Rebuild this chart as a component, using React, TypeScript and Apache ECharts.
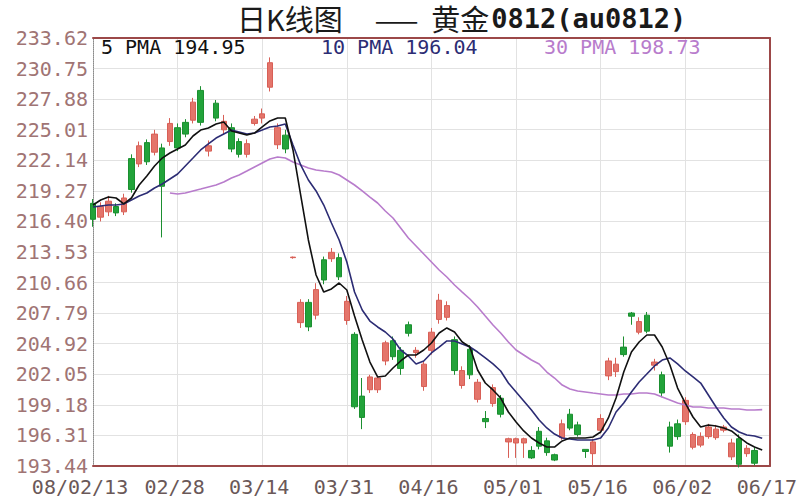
import React, { useEffect, useRef } from "react";
import * as echarts from "echarts";

const dates = [
  "08/02/13", "02/14", "02/15", "02/18", "02/19", "02/20", "02/21", "02/22", "02/25", "02/26", "02/27", "02/28",
  "02/29", "03/03", "03/04", "03/05", "03/06", "03/07", "03/10", "03/11", "03/12", "03/13", "03/14",
  "03/17", "03/18", "03/19", "03/20", "03/21", "03/24", "03/25", "03/26", "03/27", "03/28", "03/31",
  "04/01", "04/02", "04/03", "04/07", "04/08", "04/09", "04/10", "04/11", "04/14", "04/15", "04/16",
  "04/17", "04/18", "04/21", "04/22", "04/23", "04/24", "04/25", "04/28", "04/29", "04/30", "05/01",
  "05/02", "05/05", "05/06", "05/07", "05/08", "05/09", "05/12", "05/13", "05/14", "05/15", "05/16",
  "05/19", "05/20", "05/21", "05/22", "05/23", "05/26", "05/27", "05/28", "05/29", "05/30", "06/02",
  "06/03", "06/04", "06/05", "06/06", "06/09", "06/10", "06/11", "06/12", "06/13", "06/16", "06/17",
];

const candleOpen = [
  218.1, 216.8, 217.3, 217.8, 217.3, 222.3, 221.8, 223.8, 222.9, 223.3,
  223.9, 225.2, 225.7, 225.9, 228.7, 223.0, 227.5, 225.0, 225.2, 223.9,
  222.7, 225.6, 226.1, 229.0, 223.6, 224.5, 213.0, 206.9, 208.8, 207.6,
  212.8, 212.9, 213.0, 207.1, 205.8, 200.0, 200.6, 200.6, 203.3, 205.2,
  204.3, 206.7, 204.1, 200.9, 204.3, 207.2, 207.4, 205.3, 201.0, 204.4,
  199.7, 197.9, 199.3, 199.8, 195.7, 195.6, 195.6, 194.9, 196.7, 195.8,
  194.5, 196.1, 198.3, 197.3, 195.0, 194.6, 196.8, 201.9, 202.3, 204.6,
  207.8, 206.0, 207.6, 202.9, 202.0, 197.1, 197.4, 197.6, 195.2, 195.4,
  196.2, 196.1, 196.8, 194.3, 196.0, 194.6, 194.9,
];
const candleClose = [
  216.6, 217.8, 218.3, 217.2, 218.6, 219.4, 223.5, 222.0, 224.6, 219.7,
  225.6, 223.3, 224.6, 227.6, 225.7, 223.5, 226.1, 225.8, 223.2, 222.7,
  223.7, 226.0, 226.5, 231.3, 225.2, 223.2, 213.05, 208.8, 206.5, 210.0,
  210.9, 213.5, 211.2, 208.9, 199.0, 198.0, 201.8, 201.7, 205.0, 203.7,
  202.6, 205.9, 204.3, 203.0, 206.0, 209.0, 208.5, 202.4, 202.4, 202.0,
  201.3, 197.6, 200.8, 198.3, 196.0, 196.0, 196.0, 194.2, 195.3, 194.7,
  194.0, 197.4, 197.0, 196.4, 194.8, 195.7, 197.9, 203.3, 203.0, 203.9,
  207.5, 207.0, 206.1, 203.2, 200.3, 195.3, 196.2, 199.6, 196.4, 196.2,
  197.1, 196.9, 197.1, 195.6, 193.6, 195.1, 193.7,
];
const candleLow = [
  215.9, 216.4, 216.9, 216.9, 217.0, 219.1, 221.5, 221.7, 222.6, 214.9,
  223.5, 223.0, 224.3, 225.6, 225.4, 222.5, 225.8, 224.6, 222.9, 222.4,
  222.4, 225.4, 225.6, 228.6, 223.2, 222.8, 212.9, 206.4, 206.1, 207.2,
  210.5, 212.6, 210.9, 206.7, 198.8, 196.9, 200.3, 200.3, 202.9, 203.4,
  202.0, 205.6, 203.6, 200.5, 203.9, 206.8, 207.1, 202.0, 200.7, 201.6,
  199.4, 197.0, 199.0, 198.0, 194.2, 194.2, 194.2, 194.1, 195.0, 194.4,
  193.9, 195.9, 196.8, 196.2, 194.2, 193.5, 196.5, 201.5, 201.8, 203.7,
  206.7, 205.8, 205.9, 202.4, 199.9, 194.7, 195.9, 197.3, 195.0, 195.2,
  196.0, 195.9, 196.6, 194.0, 193.3, 194.3, 193.5,
];
const candleHigh = [
  218.5, 218.2, 218.8, 218.1, 219.0, 222.7, 223.9, 224.1, 225.0, 223.7,
  226.1, 225.6, 226.0, 228.0, 229.1, 224.0, 227.8, 226.4, 225.6, 224.2,
  224.1, 226.3, 227.0, 231.8, 225.6, 225.0, 213.1, 209.1, 209.1, 210.6,
  213.1, 213.9, 213.4, 209.4, 206.0, 201.7, 202.0, 201.9, 205.2, 205.6,
  204.6, 207.0, 204.6, 203.3, 206.4, 209.6, 208.9, 205.6, 202.8, 204.8,
  201.6, 198.6, 201.1, 200.1, 196.1, 196.1, 196.1, 195.3, 197.1, 196.1,
  194.6, 197.8, 198.8, 197.6, 195.0, 196.0, 198.3, 203.6, 203.6, 205.6,
  207.9, 207.4, 207.9, 203.5, 202.3, 197.6, 197.8, 199.9, 196.6, 196.6,
  197.4, 197.3, 197.3, 196.0, 196.4, 195.4, 195.2,
];

const ma5 = [
  217.94, 218.41, 218.69, 218.6, 218.04, 218.6, 219.82, 220.66, 221.6, 222.35,
  222.82, 223.2, 223.58, 224.42, 224.98, 225.17, 225.55, 225.73, 224.89, 224.7,
  224.51, 224.7, 225.27, 225.83, 226.11, 226.11, 223.11, 218.88, 214.66, 211.37,
  209.77, 210.06, 210.62, 209.96, 207.52, 205.27, 203.2, 201.8, 201.89, 202.64,
  203.3, 203.86, 203.86, 204.33, 204.99, 205.93, 206.4, 206.02, 205.08, 204.61,
  202.45, 201.23, 200.58, 199.82, 198.51, 197.57, 196.73, 196.07, 195.6, 195.22,
  195.22, 195.79, 196.07, 196.07, 196.07, 196.16, 196.63, 197.95, 199.82, 202.26,
  204.14, 205.08, 205.74, 205.74, 204.61, 202.92, 200.76, 199.35, 198.04, 197.1,
  197.29, 197.2, 197.01, 196.73, 196.16, 195.6, 195.22, 194.95,
];
const ma10 = [
  217.75, 217.85, 217.94, 217.94, 218.04, 218.41, 218.79, 219.07, 219.54, 219.91,
  220.38, 220.85, 221.6, 222.35, 223.11, 223.67, 224.23, 224.61, 224.98, 224.8,
  224.61, 224.7, 224.98, 225.27, 225.36, 225.55, 223.58, 221.7, 220.29, 219.26,
  217.94, 216.25, 214.66, 212.59, 209.77, 208.09, 207.05, 206.49, 206.02, 205.36,
  204.33, 203.77, 203.02, 203.3, 204.05, 204.61, 205.18, 205.18, 204.89, 204.61,
  204.14, 203.58, 203.02, 202.36, 201.23, 200.39, 199.54, 198.7, 197.76, 197.01,
  196.44, 196.07, 195.97, 195.88, 195.88, 195.88, 196.07, 197.01, 198.51, 199.35,
  200.39, 201.33, 202.08, 202.83, 203.39, 203.58, 203.02, 202.36, 201.8, 201.23,
  200.11, 198.98, 197.95, 197.1, 196.63, 196.35, 196.26, 196.04,
];
const ma30 = [
  "-", "-", "-", "-", "-", "-", "-", "-", "-", "-",
  219.07, 218.98, 219.07, 219.26, 219.44, 219.63, 219.82, 220.1, 220.48, 220.76,
  221.13, 221.51, 221.89, 222.26, 222.45, 222.35, 221.98, 221.7, 221.42, 221.23,
  221.13, 221.04, 220.76, 220.29, 219.82, 219.26, 218.69, 218.13, 217.38, 216.72,
  215.78, 214.84, 214.09, 213.34, 212.59, 211.84, 211.18, 210.43, 209.77, 209.12,
  208.37, 207.52, 206.68, 205.93, 205.08, 204.33, 203.86, 203.39, 203.02, 202.26,
  201.7, 201.04, 200.67, 200.48, 200.39, 200.29, 200.2, 200.11, 200.11, 200.2,
  200.2, 200.29, 200.29, 200.2, 199.92, 199.64, 199.35, 199.17, 198.98, 198.98,
  198.89, 198.89, 198.89, 198.79, 198.79, 198.7, 198.7, 198.73,
];

const yMin = 193.44;
const yMax = 233.62;
const yStep = 2.87;

const MONO = "'DejaVu Sans Mono', monospace";
const CJK = "'Noto Sans CJK SC', sans-serif";
const FRAME = "#9c4848";

export default function App() {
  const ref = useRef<HTMLDivElement>(null);
  useEffect(() => {
    if (!ref.current) return;
    const chart = echarts.init(ref.current, null, { renderer: "svg" });
    const candles = dates.map((_, i) =>
      i < candleOpen.length ? [candleOpen[i], candleClose[i], candleLow[i], candleHigh[i]] : "-"
    );
    const lastOf = (arr: any[]) => {
      for (let i = arr.length - 1; i >= 0; i--) if (typeof arr[i] === "number") return arr[i];
      return 0;
    };
    const lastVals: Record<string, number> = {
      "5 PMA": lastOf(ma5),
      "10 PMA": lastOf(ma10),
      "30 PMA": lastOf(ma30),
    };
    const lineColors = { ma5: "#111111", ma10: "#2c2c74", ma30: "#b87ccc" };

    const legendBase = {
      top: 37,
      padding: 0,
      itemGap: 0,
      itemWidth: 0,
      itemHeight: 0,
      selectedMode: false,
      formatter: (name: string) => `${name} ${lastVals[name].toFixed(2)}`,
    };
    const mkLegend = (name: string, left: number, color: string) => ({
      ...legendBase,
      left,
      textStyle: { fontFamily: MONO, fontSize: 20, color },
      data: [{ name, textStyle: { color } }],
    });

    chart.setOption({
      animation: false,
      backgroundColor: "#ffffff",
      title: {
        text: "{a|日K线图}{b|——}{c|黄金}{d|0812(au0812)}",
        left: 237,
        top: 3,
        padding: 0,
        textStyle: {
          fontWeight: "normal",
          rich: {
            a: { fontFamily: CJK, fontSize: 29, fontWeight: "normal", color: "#1a1a1a", lineHeight: 30, padding: [0, 32, 0, 0] },
            b: { fontFamily: CJK, fontSize: 26, fontWeight: "normal", color: "#1a1a1a", lineHeight: 30, padding: [0, 13, 0, 0] },
            c: { fontFamily: CJK, fontSize: 29, fontWeight: "normal", color: "#1a1a1a", lineHeight: 30, padding: [0, 2, 0, 0] },
            d: { fontFamily: MONO, fontSize: 27, fontWeight: "bold", color: "#1a1a1a", lineHeight: 30 },
          },
        },
      },
      legend: [
        mkLegend("5 PMA", 95, lineColors.ma5),
        mkLegend("10 PMA", 315, lineColors.ma10),
        mkLegend("30 PMA", 538, lineColors.ma30),
      ],
      grid: { left: 93, right: 25, top: 38, bottom: 34, containLabel: false },
      xAxis: [
        {
          type: "category",
          data: dates,
          boundaryGap: false,
          axisLine: { onZero: false, lineStyle: { color: FRAME, width: 2 } },
          axisTick: { show: false },
          axisLabel: {
            interval: 10,
            showMaxLabel: true,
            hideOverlap: false,
            margin: 11,
            formatter: (v: string, i: number) => (i === 0 ? `{f|${v}}` : `{n|${v}}`),
            rich: {
              f: { fontFamily: MONO, fontSize: 20, color: "#6a5858", padding: [0, 26, 0, 0] },
              n: { fontFamily: MONO, fontSize: 20, color: "#6a5858", padding: [0, 6, 0, 0] },
            },
          },
          splitLine: { show: true, interval: 10, lineStyle: { color: "#e2e2e2", width: 1 } },
        },
        {
          type: "category",
          data: dates,
          position: "top",
          boundaryGap: false,
          axisLine: { onZero: false, lineStyle: { color: FRAME, width: 2 } },
          axisTick: { show: false },
          axisLabel: { show: false },
          splitLine: { show: false },
        },
      ],
      yAxis: [
        {
          type: "value",
          min: yMin,
          max: yMax,
          interval: yStep,
          position: "left",
          axisLine: { show: true, lineStyle: { color: "#8a8a8a", type: "dotted", width: 1 } },
          axisTick: { show: false },
          axisLabel: {
            margin: 5,
            fontFamily: MONO,
            fontSize: 20,
            lineHeight: 18,
            color: "#a07474",
            formatter: (v: number) => v.toFixed(2),
          },
          splitLine: { show: true, lineStyle: { color: "#e2e2e2", width: 1 } },
        },
        {
          type: "value",
          min: yMin,
          max: yMax,
          interval: yStep,
          position: "right",
          axisLine: { show: true, lineStyle: { color: FRAME, width: 2 } },
          axisTick: { show: false },
          axisLabel: { show: false },
          splitLine: { show: false },
        },
      ],
      series: [
        {
          name: "K",
          type: "candlestick",
          data: candles,
          barWidth: 6,
          itemStyle: {
            color: "#e4756b",
            color0: "#22a33a",
            borderColor: "#d85f56",
            borderColor0: "#1b8f30",
            borderWidth: 1,
          },
        },
        {
          name: "30 PMA",
          type: "line",
          data: ma30,
          symbol: "none",
          lineStyle: { color: lineColors.ma30, width: 1.6 },
          itemStyle: { color: lineColors.ma30 },
        },
        {
          name: "10 PMA",
          type: "line",
          data: ma10,
          symbol: "none",
          lineStyle: { color: lineColors.ma10, width: 1.6 },
          itemStyle: { color: lineColors.ma10 },
        },
        {
          name: "5 PMA",
          type: "line",
          data: ma5,
          symbol: "none",
          lineStyle: { color: lineColors.ma5, width: 1.6 },
          itemStyle: { color: lineColors.ma5 },
        },
      ],
    });
    return () => chart.dispose();
  }, []);
  return (
    <div
      ref={ref}
      style={{ position: "absolute", left: 0, top: 0, width: 800, height: 500 }}
    />
  );
}
